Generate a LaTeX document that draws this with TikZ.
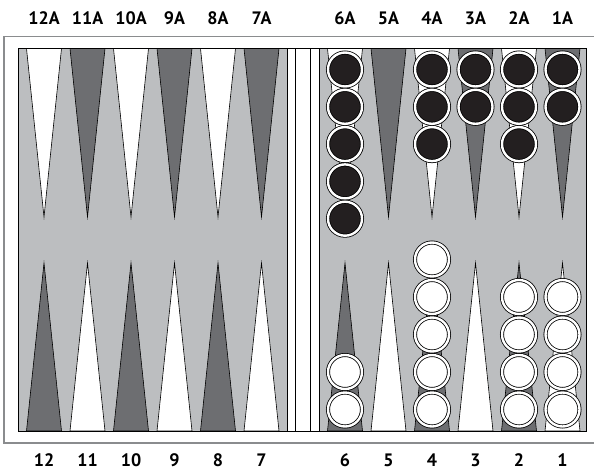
\documentclass[tikz,border=0pt]{standalone}
\usepackage{fontspec}
\setmainfont{PT Sans}
\usepackage{xcolor}
\usepackage{tikz}
\usetikzlibrary{calc}
\definecolor{boardgrey}{HTML}{BCBEC0}
\definecolor{pointdark}{HTML}{6D6E71}
\definecolor{chkblack}{HTML}{231F20}
\definecolor{framegrey}{HTML}{8A8C8E}

\begin{document}
\begin{tikzpicture}[x=1pt,y=-1pt,font=\bfseries\fontsize{18}{18}\selectfont,
  pt/.style={draw=black,line width=0.6pt},
  chk/.style={circle,draw=black,line width=0.8pt,double=white,double distance=2.4pt,minimum size=34pt,inner sep=0pt},
  chkB/.style={chk,fill=chkblack},
  chkW/.style={chk,fill=white},
  lbl/.style={inner sep=0pt}]
  \useasboundingbox (0,0) rectangle (594,471);
  % outer frame, right side runs off the page
  \draw[framegrey,line width=1.4pt] (594,36.5) -- (4,36.5) -- (4,443) -- (594,443);
  % board and bar
  \fill[boardgrey] (18,48.5) rectangle (586,431);
  \fill[white] (287,48.5) rectangle (319,431);
  % points: number/centre/top colour/bottom colour
  \foreach \n/\cx/\ct/\cb in {12/44/white/pointdark, 11/87.5/pointdark/white, 10/131/white/pointdark,
      9/174.5/pointdark/white, 8/218/white/pointdark, 7/261.5/pointdark/white,
      6/345/white/pointdark, 5/388.5/pointdark/white, 4/432/white/pointdark,
      3/475.5/pointdark/white, 2/519/white/pointdark, 1/562.5/pointdark/white}{
    \filldraw[pt,fill=\ct] (\cx-17.5,48.5) -- (\cx,217) -- (\cx+17.5,48.5) -- cycle;
    \filldraw[pt,fill=\cb] (\cx-17.5,431) -- (\cx,263) -- (\cx+17.5,431) -- cycle;
    \node[lbl] (top\n) at (\cx,18.5) {\n A};
    \node[lbl] (bot\n) at (\cx,460) {\n};
  }
  \draw[line width=0.8pt] (18,48.5) rectangle (586,431);
  \foreach \bx in {287,295,310,319} \draw[line width=0.8pt] (\bx,48.5) -- (\bx,431);
  % checkers: point/centre/count
  \foreach \p/\cx/\k in {6/345/5, 4/432/3, 3/475.5/2, 2/519/3, 1/562.5/2}{
    \foreach \i in {1,...,\k} \node[chkB] (black\p-\i) at (\cx,{69.5+37.3*(\i-1)}) {};
  }
  \foreach \p/\cx/\k in {6/345/2, 4/432/5, 2/519/4, 1/562.5/4}{
    \foreach \i in {1,...,\k} \node[chkW] (white\p-\i) at (\cx,{409.5-37.5*(\i-1)}) {};
  }
\end{tikzpicture}
\end{document}
